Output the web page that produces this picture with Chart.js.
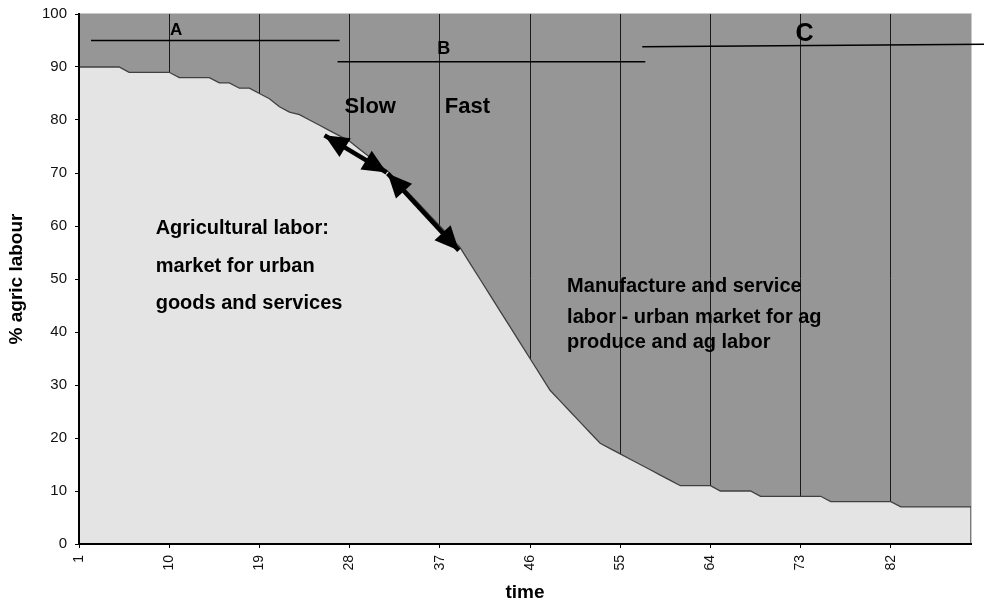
<!DOCTYPE html>
<html lang="en">
<head>
    <meta charset="UTF-8">
    <title>Agricultural labour over time</title>
    <style>
        html, body {
            margin: 0;
            padding: 0;
            background: #fff;
        }
        #chart {
            width: 984px;
            height: 604px;
        }
    </style>
</head>
<body>
    <div id="chart">
        <canvas id="myChart"></canvas>
    </div>
    <script src="https://cdn.jsdelivr.net/npm/chart.js"></script>
    <script>
        // time steps 1..90 on the category axis
        let timeSteps = [1, 2, 3, 4, 5, 6, 7, 8, 9, 10, 11, 12, 13, 14, 15, 16, 17, 18, 19, 20,
            21, 22, 23, 24, 25, 26, 27, 28, 29, 30, 31, 32, 33, 34, 35, 36, 37, 38, 39, 40,
            41, 42, 43, 44, 45, 46, 47, 48, 49, 50, 51, 52, 53, 54, 55, 56, 57, 58, 59, 60,
            61, 62, 63, 64, 65, 66, 67, 68, 69, 70, 71, 72, 73, 74, 75, 76, 77, 78, 79, 80,
            81, 82, 83, 84, 85, 86, 87, 88, 89, 90]

        // % of labour in agriculture
        let agricLabour = [90, 90, 90, 90, 90, 89, 89, 89, 89, 89,
            88, 88, 88, 88, 87, 87, 86, 86, 85, 84,
            82.5, 81.5, 81, 80, 79, 78, 77, 76, 74.5, 73,
            71.5, 70, 68, 66, 64, 62, 60, 58, 56, 53,
            50, 47, 44, 41, 38, 35, 32, 29, 27, 25,
            23, 21, 19, 18, 17, 16, 15, 14, 13, 12,
            11, 11, 11, 11, 10, 10, 10, 10, 9, 9,
            9, 9, 9, 9, 9, 8, 8, 8, 8, 8,
            8, 8, 7, 7, 7, 7, 7, 7, 7, 7]

        let yTicks = [0, 10, 20, 30, 40, 50, 60, 70, 80, 90, 100]
        let tickEvery = 9

        const FONT = "'Liberation Sans', Arial, sans-serif"

        // notes drawn over the plot, in data units (x = time step, y = %)
        let phaseLines = [
            { x1: 2.2, y1: 95, x2: 27, y2: 95 },
            { x1: 26.8, y1: 91, x2: 57.5, y2: 91 },
            { x1: 57.2, y1: 93.8, x2: 91.4, y2: 94.3 }
        ]
        let notes = [
            { text: "A", x: 10.7, y: 96.9, size: 17, align: "center" },
            { text: "B", x: 37.4, y: 93.4, size: 18, align: "center" },
            { text: "C", x: 73.4, y: 96.2, size: 25, align: "center" },
            { text: "Slow", x: 27.5, y: 82.4, size: 22, align: "left" },
            { text: "Fast", x: 37.5, y: 82.4, size: 22, align: "left" },
            { text: "Agricultural labor:", x: 8.65, y: 59.6, size: 20, align: "left" },
            { text: "market for urban", x: 8.65, y: 52.4, size: 20, align: "left" },
            { text: "goods and services", x: 8.65, y: 45.3, size: 20, align: "left" },
            { text: "Manufacture and service", x: 49.7, y: 48.5, size: 20, align: "left" },
            { text: "labor - urban market for ag", x: 49.7, y: 42.8, size: 20, align: "left" },
            { text: "produce and ag labor", x: 49.7, y: 38.1, size: 20, align: "left" }
        ]
        let arrows = [
            { x1: 25.5, y1: 77.1, x2: 31.7, y2: 70.1 },
            { x1: 31.8, y1: 69.9, x2: 38.9, y2: 55.4 }
        ]

        // dark grey plot background
        const plotBackground = {
            id: "plotBackground",
            beforeDraw(chart) {
                const { ctx, chartArea: a } = chart
                ctx.save()
                ctx.fillStyle = "#969696"
                ctx.fillRect(a.left, a.top, a.right - a.left, a.bottom - a.top)
                ctx.restore()
            }
        }

        function arrowHead(ctx, tx, ty, fx, fy) {
            const ang = Math.atan2(ty - fy, tx - fx)
            const len = 24, half = 11
            ctx.beginPath()
            ctx.moveTo(tx, ty)
            ctx.lineTo(tx - len * Math.cos(ang) + half * Math.sin(ang), ty - len * Math.sin(ang) - half * Math.cos(ang))
            ctx.lineTo(tx - len * Math.cos(ang) - half * Math.sin(ang), ty - len * Math.sin(ang) + half * Math.cos(ang))
            ctx.closePath()
            ctx.fill()
        }

        const overlay = {
            id: "overlay",
            afterDatasetsDraw(chart) {
                const { ctx, chartArea: a } = chart
                const xs = chart.scales.x, ys = chart.scales.y
                const px = v => xs.getPixelForValue(v - 1)
                const py = v => ys.getPixelForValue(v)
                ctx.save()

                // closing edge of the area at the last point
                const last = agricLabour.length - 1
                ctx.strokeStyle = "#404040"
                ctx.lineWidth = 1.3
                ctx.beginPath()
                ctx.moveTo(xs.getPixelForValue(last), ys.getPixelForValue(agricLabour[last]))
                ctx.lineTo(xs.getPixelForValue(last), ys.getPixelForValue(0))
                ctx.stroke()

                // light frame top / right
                ctx.strokeStyle = "#c8c8c8"
                ctx.lineWidth = 1
                ctx.beginPath()
                ctx.moveTo(a.left, a.top - 0.5)
                ctx.lineTo(a.right + 0.5, a.top - 0.5)
                ctx.lineTo(a.right + 0.5, a.bottom)
                ctx.stroke()

                // phase lines
                ctx.strokeStyle = "#000"
                ctx.lineWidth = 1.5
                phaseLines.forEach(l => {
                    ctx.beginPath()
                    ctx.moveTo(px(l.x1), py(l.y1))
                    ctx.lineTo(px(l.x2), py(l.y2))
                    ctx.stroke()
                })

                // double headed arrows
                ctx.fillStyle = "#000"
                arrows.forEach(r => {
                    const x1 = px(r.x1), y1 = py(r.y1), x2 = px(r.x2), y2 = py(r.y2)
                    ctx.lineWidth = 4.5
                    ctx.beginPath()
                    ctx.moveTo(x1, y1)
                    ctx.lineTo(x2, y2)
                    ctx.stroke()
                    arrowHead(ctx, x1, y1, x2, y2)
                    arrowHead(ctx, x2, y2, x1, y1)
                })

                // text notes
                ctx.textBaseline = "middle"
                notes.forEach(n => {
                    ctx.font = "bold " + n.size + "px " + FONT
                    ctx.textAlign = n.align
                    ctx.fillText(n.text, px(n.x), py(n.y))
                })
                ctx.restore()
            }
        }

        let ctx = document.getElementById("myChart")

        let chart = new Chart(ctx, {
            type: "line",
            data: {
                labels: timeSteps,
                datasets: [
                    {
                        label: "% agric labour",
                        data: agricLabour,
                        borderColor: "#404040",
                        borderWidth: 1.3,
                        backgroundColor: "#e4e4e4",
                        fill: "origin",
                        pointRadius: 0,
                        tension: 0
                    }
                ]
            },
            options: {
                responsive: true,
                maintainAspectRatio: false,
                animation: false,
                devicePixelRatio: 1,
                layout: {
                    padding: { top: 14, right: 13, bottom: 0, left: 0 }
                },
                plugins: {
                    legend: { display: false },
                    tooltip: { enabled: false }
                },
                scales: {
                    x: {
                        type: "category",
                        offset: false,
                        afterFit: s => { s.height = 60; s.paddingRight = 0; s.paddingLeft = 0 },
                        grid: {
                            color: "#1a1a1a",
                            lineWidth: 1,
                            tickLength: 4,
                            tickColor: "#000"
                        },
                        border: { color: "#000", width: 2, z: 1 },
                        ticks: {
                            autoSkip: false,
                            minRotation: 90,
                            maxRotation: 90,
                            padding: 7,
                            color: "#111",
                            font: { family: FONT, size: 14 },
                            callback: (v, i) => i % tickEvery === 0 ? String(timeSteps[i]) : null
                        },
                        title: {
                            display: true,
                            text: "time",
                            color: "#000",
                            font: { family: FONT, size: 19, weight: "bold" },
                            padding: { top: 0, bottom: 0 }
                        }
                    },
                    y: {
                        min: 0,
                        max: 100,
                        afterFit: s => { s.width = 79; s.paddingTop = 0; s.paddingBottom = 0 },
                        afterBuildTicks: s => { s.ticks = yTicks.map(v => ({ value: v })) },
                        grid: {
                            drawOnChartArea: false,
                            tickLength: 4,
                            tickColor: "#000"
                        },
                        border: { color: "#000", width: 2, z: 1 },
                        ticks: {
                            padding: 8,
                            color: "#111",
                            font: { family: FONT, size: 15 }
                        },
                        title: {
                            display: true,
                            text: "% agric labour",
                            color: "#000",
                            font: { family: FONT, size: 19, weight: "bold" },
                            padding: { top: 5, bottom: 0 }
                        }
                    }
                }
            },
            plugins: [plotBackground, overlay]
        })
    </script>
</body>
</html>
